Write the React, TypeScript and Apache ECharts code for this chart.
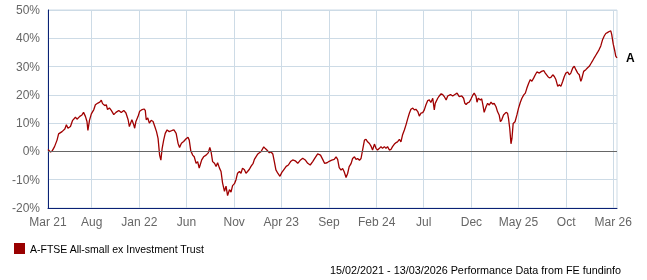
import React, { useEffect, useRef } from 'react';
import * as echarts from 'echarts';

const FONT = '"Liberation Sans", Arial, sans-serif';

const seriesName = 'A-FTSE All-small ex Investment Trust';
const endLabelText = 'A';
const footnote = '15/02/2021 - 13/03/2026 Performance Data from FE fundinfo';

const axisStart = '2021-03-14';
const axisEnd = '2026-03-13';

const tickDates = [
  '2021-03-14', '2021-08-01', '2022-01-01', '2022-06-01', '2022-11-01', '2023-04-01', '2023-09-01',
  '2024-02-01', '2024-07-01', '2024-12-01', '2025-05-01', '2025-10-01', '2026-03-01',
];
const tickLabels = ['Mar 21', 'Aug', 'Jan 22', 'Jun', 'Nov', 'Apr 23', 'Sep', 'Feb 24', 'Jul', 'Dec', 'May 25', 'Oct', 'Mar 26'];

const yMin = -20;
const yMax = 50;
const yStep = 10;

const dates = [
  '2021-03-14', '2021-03-22', '2021-03-27', '2021-04-04', '2021-04-12', '2021-04-17', '2021-04-28', '2021-05-07',
  '2021-05-12', '2021-05-17', '2021-05-25', '2021-06-01', '2021-06-10', '2021-06-15', '2021-06-24', '2021-07-01',
  '2021-07-06', '2021-07-12', '2021-07-17', '2021-07-20', '2021-07-25', '2021-07-31', '2021-08-08', '2021-08-13',
  '2021-08-21', '2021-08-27', '2021-09-01', '2021-09-05', '2021-09-12', '2021-09-17', '2021-09-21', '2021-09-27',
  '2021-10-03', '2021-10-11', '2021-10-18', '2021-10-27', '2021-11-04', '2021-11-12', '2021-11-19', '2021-11-26',
  '2021-11-30', '2021-12-04', '2021-12-08', '2021-12-14', '2021-12-17', '2021-12-21', '2021-12-28', '2022-01-02',
  '2022-01-10', '2022-01-16', '2022-01-20', '2022-01-23', '2022-01-28', '2022-02-02', '2022-02-08', '2022-02-14',
  '2022-02-19', '2022-02-25', '2022-03-02', '2022-03-07', '2022-03-11', '2022-03-15', '2022-03-20', '2022-03-25',
  '2022-03-31', '2022-04-07', '2022-04-16', '2022-04-22', '2022-04-29', '2022-05-05', '2022-05-10', '2022-05-16',
  '2022-05-23', '2022-05-31', '2022-06-06', '2022-06-10', '2022-06-15', '2022-06-21', '2022-06-26', '2022-07-02',
  '2022-07-07', '2022-07-12', '2022-07-15', '2022-07-20', '2022-07-26', '2022-08-03', '2022-08-10', '2022-08-15',
  '2022-08-19', '2022-08-24', '2022-08-30', '2022-09-04', '2022-09-09', '2022-09-15', '2022-09-20', '2022-09-25',
  '2022-10-01', '2022-10-06', '2022-10-11', '2022-10-17', '2022-10-22', '2022-10-27', '2022-11-02', '2022-11-07',
  '2022-11-12', '2022-11-18', '2022-11-23', '2022-11-28', '2022-12-04', '2022-12-09', '2022-12-14', '2022-12-20',
  '2022-12-25', '2023-01-01', '2023-01-05', '2023-01-10', '2023-01-16', '2023-01-21', '2023-01-26', '2023-02-04',
  '2023-02-09', '2023-02-14', '2023-02-22', '2023-02-27', '2023-03-05', '2023-03-10', '2023-03-15', '2023-03-21',
  '2023-03-28', '2023-04-03', '2023-04-09', '2023-04-17', '2023-04-24', '2023-05-01', '2023-05-08', '2023-05-16',
  '2023-05-24', '2023-06-02', '2023-06-09', '2023-06-17', '2023-06-25', '2023-07-03', '2023-07-11', '2023-07-18',
  '2023-07-27', '2023-08-05', '2023-08-12', '2023-08-18', '2023-08-26', '2023-09-02', '2023-09-10', '2023-09-18',
  '2023-09-24', '2023-09-29', '2023-10-04', '2023-10-10', '2023-10-15', '2023-10-20', '2023-10-26', '2023-10-31',
  '2023-11-05', '2023-11-11', '2023-11-16', '2023-11-22', '2023-11-27', '2023-12-02', '2023-12-08', '2023-12-13',
  '2023-12-18', '2023-12-24', '2023-12-29', '2024-01-03', '2024-01-09', '2024-01-14', '2024-01-19', '2024-01-25',
  '2024-01-30', '2024-02-04', '2024-02-10', '2024-02-15', '2024-02-20', '2024-02-26', '2024-03-02', '2024-03-07',
  '2024-03-13', '2024-03-18', '2024-03-23', '2024-03-29', '2024-04-03', '2024-04-08', '2024-04-14', '2024-04-19',
  '2024-04-24', '2024-04-30', '2024-05-05', '2024-05-11', '2024-05-16', '2024-05-21', '2024-05-27', '2024-06-01',
  '2024-06-06', '2024-06-12', '2024-06-17', '2024-06-22', '2024-06-28', '2024-07-03', '2024-07-08', '2024-07-14',
  '2024-07-19', '2024-07-24', '2024-07-30', '2024-08-04', '2024-08-07', '2024-08-15', '2024-08-20', '2024-08-26',
  '2024-08-31', '2024-09-05', '2024-09-11', '2024-09-16', '2024-09-25', '2024-10-02', '2024-10-09', '2024-10-16',
  '2024-10-23', '2024-10-31', '2024-11-06', '2024-11-10', '2024-11-14', '2024-11-19', '2024-11-24', '2024-11-30',
  '2024-12-05', '2024-12-10', '2024-12-16', '2024-12-19', '2024-12-23', '2024-12-30', '2025-01-03', '2025-01-07',
  '2025-01-11', '2025-01-17', '2025-01-22', '2025-01-27', '2025-02-02', '2025-02-07', '2025-02-12', '2025-02-18',
  '2025-02-23', '2025-02-28', '2025-03-04', '2025-03-08', '2025-03-14', '2025-03-22', '2025-03-27', '2025-03-30',
  '2025-04-03', '2025-04-07', '2025-04-10', '2025-04-14', '2025-04-20', '2025-04-26', '2025-05-01', '2025-05-07',
  '2025-05-12', '2025-05-18', '2025-05-23', '2025-05-28', '2025-06-03', '2025-06-08', '2025-06-13', '2025-06-19',
  '2025-06-24', '2025-06-29', '2025-07-07', '2025-07-14', '2025-07-21', '2025-07-26', '2025-08-03', '2025-08-08',
  '2025-08-13', '2025-08-19', '2025-08-24', '2025-08-29', '2025-09-04', '2025-09-09', '2025-09-14', '2025-09-20',
  '2025-09-25', '2025-09-30', '2025-10-06', '2025-10-11', '2025-10-16', '2025-10-22', '2025-10-27', '2025-11-01',
  '2025-11-07', '2025-11-12', '2025-11-17', '2025-11-20', '2025-11-26', '2025-12-03', '2025-12-08', '2025-12-14',
  '2025-12-19', '2025-12-24', '2025-12-30', '2026-01-04', '2026-01-09', '2026-01-15', '2026-01-20', '2026-01-26',
  '2026-01-31', '2026-02-05', '2026-02-10', '2026-02-16', '2026-02-21', '2026-02-24', '2026-03-01', '2026-03-06',
  '2026-03-09', '2026-03-13',
];

const values = [
  0.7, -0.2, 0.1, 1.7, 4.0, 6.2, 7.0, 7.9,
  9.4, 8.2, 8.8, 11.0, 12.1, 11.4, 12.4, 12.9,
  13.8, 12.4, 10.6, 7.4, 11.0, 13.3, 14.8, 16.5,
  17.1, 17.4, 18.1, 16.9, 16.2, 16.5, 14.8, 15.4,
  14.5, 13.0, 13.8, 14.5, 13.8, 14.5, 13.6, 11.2,
  8.8, 10.0, 11.2, 9.4, 8.2, 10.6, 12.4, 14.2,
  14.8, 15.0, 14.5, 11.2, 11.8, 10.0, 11.0, 10.6,
  9.0, 7.0, 4.6, -1.3, -3.1, 1.0, 4.0, 6.4,
  7.6, 7.0, 7.4, 7.6, 6.4, 2.9, 1.4, 2.9,
  3.5, 4.5, 5.0, 4.0, 0.2, -1.3, -1.9, -4.2,
  -3.6, -5.9, -4.8, -3.0, -1.9, -1.3, -0.5, 1.4,
  -0.1, -3.6, -4.2, -5.3, -4.0, -5.9, -7.1, -11.2,
  -14.1, -12.3, -15.6, -13.5, -14.4, -12.1, -11.4, -10.0,
  -7.7, -7.1, -7.7, -5.9, -6.5, -7.7, -7.1, -6.3,
  -5.3, -4.2, -2.8, -1.9, -0.9, -0.5, -0.1, 1.6,
  1.0, 0.5, -0.5, -0.1, -0.9, -3.6, -6.5, -7.7,
  -8.8, -7.4, -6.5, -5.3, -4.8, -3.6, -3.0, -3.3,
  -4.2, -3.0, -2.4, -3.0, -4.2, -4.8, -3.6, -2.4,
  -0.9, -1.3, -2.8, -4.2, -4.0, -3.5, -3.1, -2.8,
  -1.9, -2.8, -5.7, -6.6, -6.0, -7.2, -9.2, -7.8,
  -5.4, -4.3, -2.5, -1.9, -2.8, -2.5, -3.1, -2.5,
  0.5, 4.0, 4.3, 3.4, 2.8, 1.9, 0.5, 2.6,
  1.1, 0.5, 1.1, 1.7, 1.1, 1.7, 1.1, 1.7,
  0.5, 0.7, 1.7, 2.6, 3.1, 3.4, 4.3, 3.4,
  5.8, 7.6, 9.3, 11.7, 13.5, 14.9, 15.3, 14.7,
  14.9, 14.1, 12.5, 13.5, 13.7, 14.7, 16.4, 18.0,
  18.2, 17.3, 18.8, 14.7, 17.0, 18.8, 19.6, 20.4,
  20.1, 19.4, 18.2, 19.6, 20.1, 19.6, 20.1, 20.6,
  19.4, 19.6, 18.8, 17.0, 16.6, 17.2, 17.4, 18.6,
  19.8, 20.6, 19.4, 17.4, 18.8, 18.2, 18.6, 16.4,
  13.8, 15.8, 17.0, 16.4, 17.4, 16.7, 17.0, 15.8,
  14.0, 12.9, 10.5, 11.1, 12.9, 13.8, 13.5, 11.7,
  8.1, 2.7, 4.5, 9.9, 10.5, 12.9, 15.2, 17.4,
  18.8, 20.0, 20.6, 22.4, 24.2, 25.4, 24.8, 26.0,
  27.1, 28.1, 27.7, 28.3, 28.6, 27.7, 26.5, 26.0,
  26.2, 27.1, 26.5, 25.4, 23.0, 23.6, 23.0, 24.8,
  26.5, 27.7, 28.1, 27.1, 27.7, 29.5, 30.1, 28.9,
  27.7, 27.1, 24.8, 25.7, 28.3, 28.9, 29.5, 30.1,
  31.0, 31.9, 33.1, 34.0, 34.9, 36.1, 37.3, 39.6,
  40.8, 41.7, 42.0, 42.4, 42.6, 41.4, 37.9, 35.5,
  33.7, 33.1,
];

function ts(s: string): number {
  const [y, m, d] = s.split('-').map(Number);
  return new Date(y, m - 1, d).getTime();
}

export default function App() {
  const ref = useRef<HTMLDivElement>(null);

  useEffect(() => {
    if (!ref.current) return;
    const chart = echarts.init(ref.current, null, { renderer: 'svg' });
    const tickValues = tickDates.map(ts);
    const labelFor = (v: number): string => {
      let best = 0;
      let bestDiff = Infinity;
      tickValues.forEach((t, i) => {
        const diff = Math.abs(t - v);
        if (diff < bestDiff) {
          bestDiff = diff;
          best = i;
        }
      });
      return bestDiff < 86400000 ? tickLabels[best] : '';
    };
    const data = dates.map((d, i) => [ts(d), values[i]]);
    const gridColor = '#cddbe6';
    const axisColor = '#0b2175';

    chart.setOption({
      animation: false,
      textStyle: { fontFamily: FONT },
      grid: {
        left: 48,
        right: 30,
        top: 10,
        bottom: 72,
        show: true,
        borderColor: gridColor,
        borderWidth: 1,
      },
      legend: {
        show: true,
        left: 14,
        top: 243,
        padding: 0,
        icon: 'rect',
        itemWidth: 11,
        itemHeight: 11,
        selectedMode: false,
        data: [seriesName],
        textStyle: { fontSize: 10.5, color: '#000', fontFamily: FONT },
      },
      xAxis: {
        type: 'value',
        min: ts(axisStart),
        max: ts(axisEnd),
        axisLine: { show: true, onZero: false, lineStyle: { color: axisColor, width: 1 } },
        axisTick: { show: false, customValues: tickValues },
        axisLabel: {
          customValues: tickValues,
          formatter: (v: number) => labelFor(v),
          fontSize: 12,
          color: '#666',
          margin: 8,
          fontFamily: FONT,
          hideOverlap: false,
        },
        splitLine: { show: true, lineStyle: { color: gridColor, width: 1 } },
      },
      yAxis: {
        type: 'value',
        min: yMin,
        max: yMax,
        interval: yStep,
        axisLine: { show: true, lineStyle: { color: axisColor, width: 1 } },
        axisTick: { show: false },
        axisLabel: { formatter: '{value}%', fontSize: 12, color: '#666', margin: 8, fontFamily: FONT },
        splitLine: { show: true, lineStyle: { color: gridColor, width: 1 } },
      },
      series: [
        {
          type: 'line',
          name: seriesName,
          data,
          symbol: 'none',
          showSymbol: false,
          lineStyle: { color: '#a00000', width: 1.3 },
          itemStyle: { color: '#990000' },
          endLabel: {
            show: true,
            formatter: endLabelText,
            distance: 9,
            color: '#000',
            fontSize: 12,
            fontWeight: 'bold',
            fontFamily: FONT,
          },
          markLine: {
            silent: true,
            symbol: 'none',
            label: { show: false },
            lineStyle: { color: '#666', type: 'solid', width: 1 },
            data: [{ yAxis: 0 }],
          },
        },
      ],
      graphic: [
        {
          type: 'text',
          x: 330,
          y: 270,
          style: {
            text: footnote,
            fill: '#000',
            font: '10.8px "Liberation Sans", Arial, sans-serif',
            verticalAlign: 'middle',
          },
        },
      ],
    });

    return () => chart.dispose();
  }, []);

  return <div ref={ref} style={{ position: 'fixed', left: 0, top: 0, width: 647, height: 280 }} />;
}
